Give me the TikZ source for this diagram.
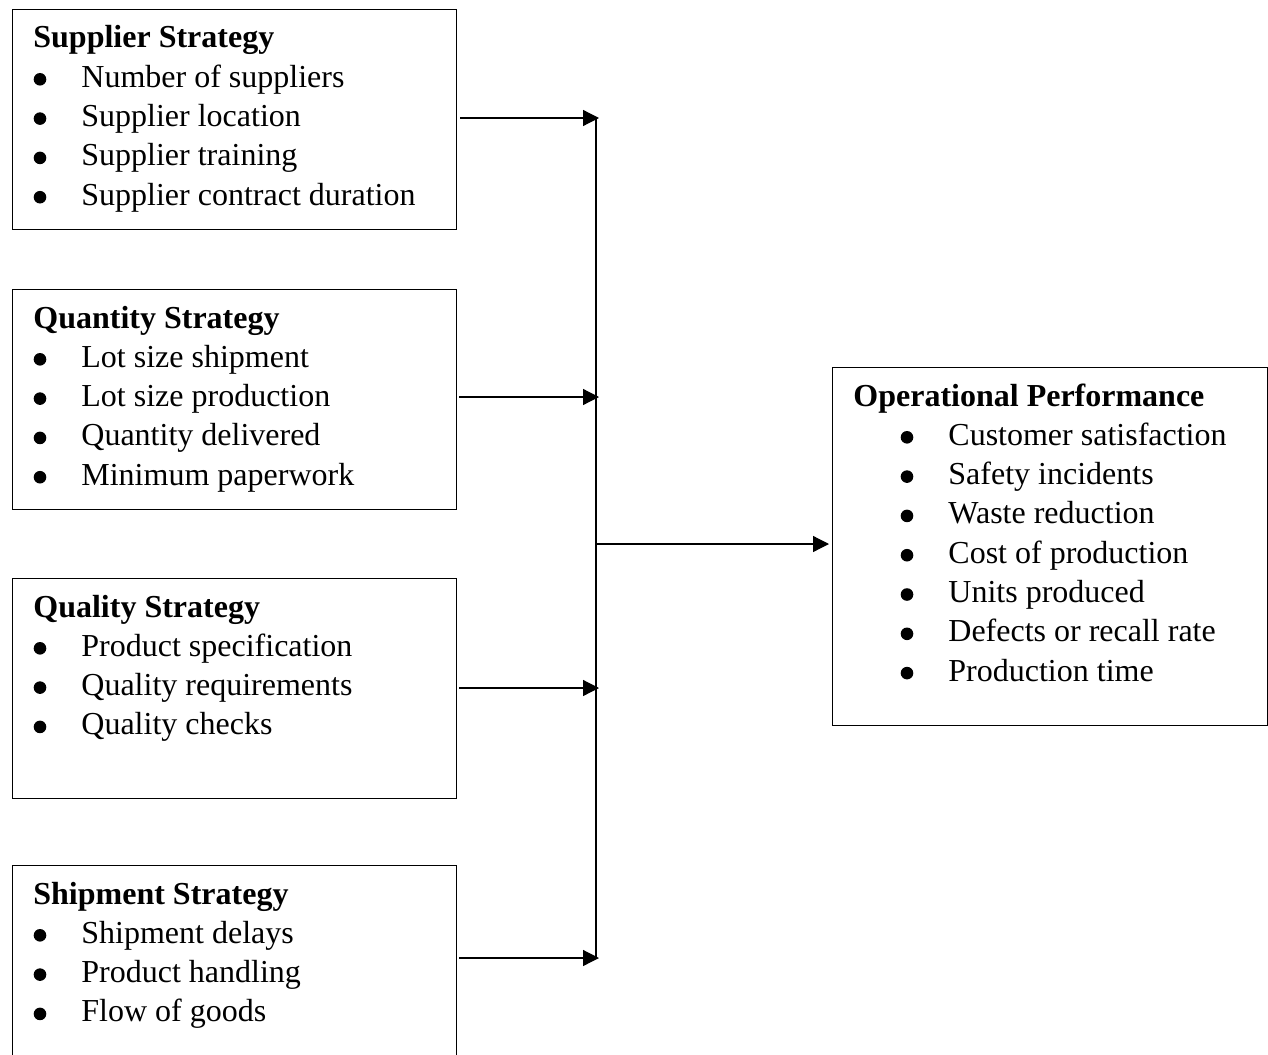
\documentclass[tikz,border=0pt]{standalone}
\usepackage{fontspec}
\setmainfont{Liberation Serif}
\usetikzlibrary{arrows.meta, positioning}

\tikzset{
  stratbox/.style={draw, line width=0.6pt, anchor=north west, inner sep=0pt, minimum width=222pt, minimum height=110pt},
  boxtitle/.style={font=\fontsize{16}{19.65}\selectfont\bfseries, anchor=base west, inner sep=0pt},
  boxitem/.style={font=\fontsize{16}{19.65}\selectfont, anchor=base west, inner sep=0pt},
  dot/.style={circle, fill, inner sep=0pt, minimum size=6.3pt},
  feed/.style={line width=0.6pt, -{Triangle[length=8pt, width=8pt]}},
}

\begin{document}
\begin{tikzpicture}[x=0.5pt, y=-0.5pt]
  \useasboundingbox (0,0) rectangle (1268,1054);
  % Supplier strategy
  \node[stratbox] (sup) at (12,9) {};
  \node[boxtitle] (supT) at (33,48) {Supplier Strategy};
  \node[dot] (supD1) at (40,79.3) {};
  \node[boxitem] (sup1) at (81,87.3) {Number of suppliers};
  \node[dot] (supD2) at (40,118.6) {};
  \node[boxitem] (sup2) at (81,126.6) {Supplier location};
  \node[dot] (supD3) at (40,157.9) {};
  \node[boxitem] (sup3) at (81,165.9) {Supplier training};
  \node[dot] (supD4) at (40,197.2) {};
  \node[boxitem] (sup4) at (81,205.2) {Supplier contract duration};
  % Quantity strategy
  \node[stratbox] (qty) at (12,289) {};
  \node[boxtitle] (qtyT) at (33,328) {Quantity Strategy};
  \node[dot] (qtyD1) at (40,359.3) {};
  \node[boxitem] (qty1) at (81,367.3) {Lot size shipment};
  \node[dot] (qtyD2) at (40,398.6) {};
  \node[boxitem] (qty2) at (81,406.6) {Lot size production};
  \node[dot] (qtyD3) at (40,437.9) {};
  \node[boxitem] (qty3) at (81,445.9) {Quantity delivered};
  \node[dot] (qtyD4) at (40,477.2) {};
  \node[boxitem] (qty4) at (81,485.2) {Minimum paperwork};
  % Quality strategy
  \node[stratbox] (qal) at (12,578) {};
  \node[boxtitle] (qalT) at (33,617) {Quality Strategy};
  \node[dot] (qalD1) at (40,648.3) {};
  \node[boxitem] (qal1) at (81,656.3) {Product specification};
  \node[dot] (qalD2) at (40,687.6) {};
  \node[boxitem] (qal2) at (81,695.6) {Quality requirements};
  \node[dot] (qalD3) at (40,726.9) {};
  \node[boxitem] (qal3) at (81,734.9) {Quality checks};
  % Shipment strategy (runs off the page at the bottom)
  \node[stratbox, minimum height=97pt] (shp) at (12,865) {};
  \node[boxtitle] (shpT) at (33,904) {Shipment Strategy};
  \node[dot] (shpD1) at (40,935.3) {};
  \node[boxitem] (shp1) at (81,943.3) {Shipment delays};
  \node[dot] (shpD2) at (40,974.6) {};
  \node[boxitem] (shp2) at (81,982.6) {Product handling};
  \node[dot] (shpD3) at (40,1013.9) {};
  \node[boxitem] (shp3) at (81,1021.9) {Flow of goods};
  % Operational performance
  \node[stratbox, minimum width=217.5pt, minimum height=179pt] (perf) at (832,367) {};
  \node[boxtitle] (perfT) at (853,406) {Operational Performance};
  \node[dot] (perfD1) at (907,437.3) {};
  \node[boxitem] (perf1) at (948,445.3) {Customer satisfaction};
  \node[dot] (perfD2) at (907,476.6) {};
  \node[boxitem] (perf2) at (948,484.6) {Safety incidents};
  \node[dot] (perfD3) at (907,515.9) {};
  \node[boxitem] (perf3) at (948,523.9) {Waste reduction};
  \node[dot] (perfD4) at (907,555.2) {};
  \node[boxitem] (perf4) at (948,563.2) {Cost of production};
  \node[dot] (perfD5) at (907,594.5) {};
  \node[boxitem] (perf5) at (948,602.5) {Units produced};
  \node[dot] (perfD6) at (907,633.8) {};
  \node[boxitem] (perf6) at (948,641.8) {Defects or recall rate};
  \node[dot] (perfD7) at (907,673.1) {};
  \node[boxitem] (perf7) at (948,681.1) {Production time};
  % Connectors
  \coordinate (in1) at (599,118);
  \coordinate (in2) at (599,397);
  \coordinate (in3) at (599,688);
  \coordinate (in4) at (599,958);
  \coordinate (busTop) at (596,118);
  \coordinate (busBot) at (596,958);
  \coordinate (busMid) at (596,544);
  \coordinate (out) at (829,544);
  \draw[line width=0.6pt] (busTop) -- (busBot);
  \draw[feed] ([xshift=1.5pt]sup.east |- in1) -- (in1);
  \draw[feed] ([xshift=1pt]qty.east |- in2) -- (in2);
  \draw[feed] ([xshift=1pt]qal.east |- in3) -- (in3);
  \draw[feed] ([xshift=1pt]shp.east |- in4) -- (in4);
  \draw[feed] (busMid) -- (out);
\end{tikzpicture}
\end{document}
